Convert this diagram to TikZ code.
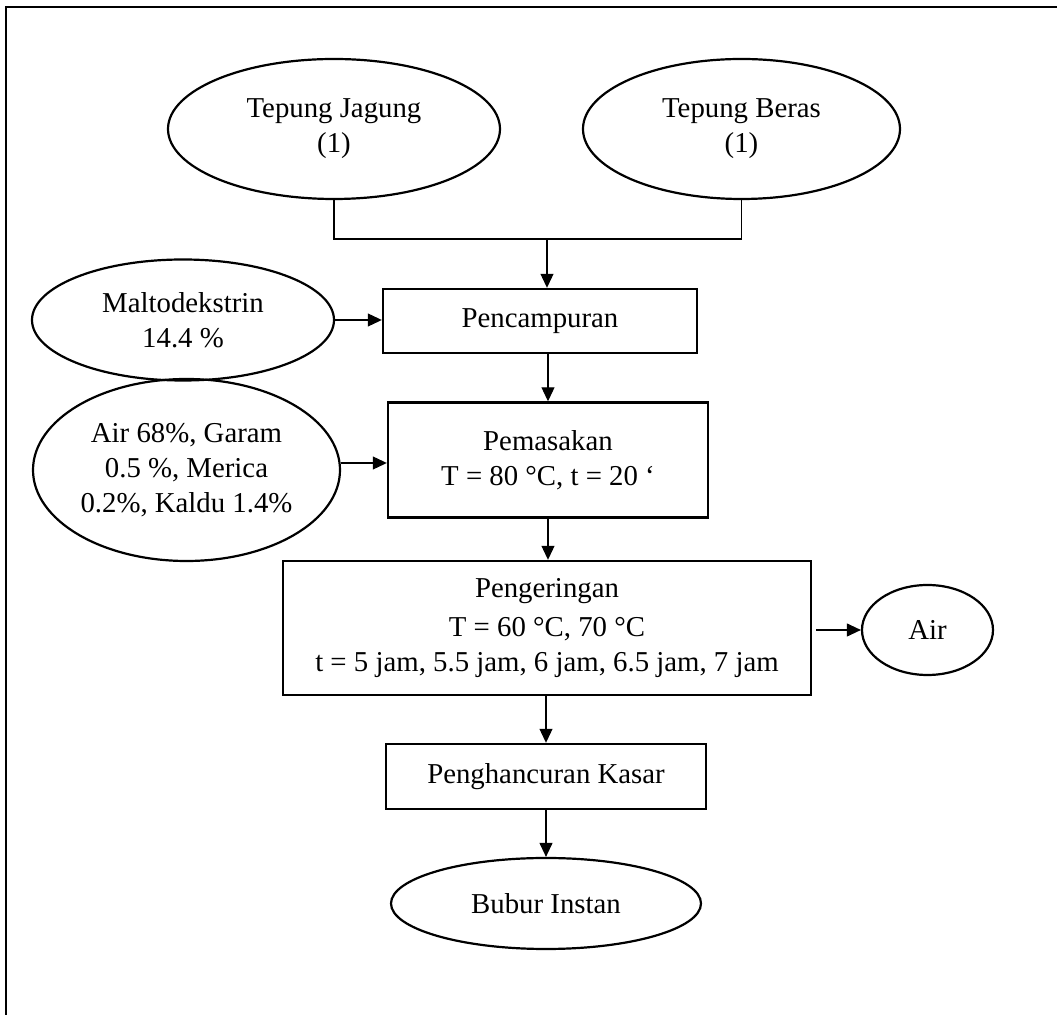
\documentclass[tikz,border=0pt]{standalone}
\usepackage{fontspec}
\setmainfont{Liberation Serif}
\usetikzlibrary{shapes.geometric,arrows.meta}
\begin{document}
\begin{tikzpicture}[x=0.5pt,y=-0.5pt,
  txt/.style={font=\fontsize{14.4}{17.5}\selectfont,align=center,inner sep=0pt},
  oval/.style={txt,ellipse,draw,line width=1.1pt},
  procbox/.style={txt,rectangle,draw,line width=1.2pt},
  link/.style={line width=0.55pt},
  flow/.style={link,-{Triangle[length=7pt,width=6.5pt]}}]
\useasboundingbox (0,0) rectangle (1057,1015);
\draw[line width=1.4pt] (6,1015) -- (6,7) -- (1057,7);

\node[oval,minimum width=166pt,minimum height=70pt] (jagung) at (334,129) {Tepung Jagung\\(1)};
\node[oval,minimum width=158.5pt,minimum height=70pt] (beras) at (741.5,129) {Tepung Beras\\(1)};
\node[procbox,minimum width=157pt,minimum height=32pt] (campur) at (540,321) {Pencampuran};
\node[oval,minimum width=151pt,minimum height=60.5pt] (malto) at (183,320) {Maltodekstrin\\14.4 \%};
\node[procbox,minimum width=160pt,minimum height=57.5pt] (masak) at (548,460) {Pemasakan\\T = 80 °C, t = 20 ‘};
\node[oval,minimum width=153.5pt,minimum height=91pt] (bahan) at (186.5,470) {Air 68\%, Garam\\0.5 \%, Merica\\0.2\%, Kaldu 1.4\%};
\node[procbox,minimum width=264pt,minimum height=67pt] (kering) at (547,628) {Pengeringan\\[2pt]T = 60 °C, 70 °C\\t = 5 jam, 5.5 jam, 6 jam, 6.5 jam, 7 jam};
\node[oval,minimum width=65.5pt,minimum height=45pt] (air) at (927.5,630) {Air};
\node[procbox,minimum width=160pt,minimum height=32.5pt] (hancur) at (546,776.5) {Penghancuran Kasar};
\node[oval,minimum width=155pt,minimum height=45.5pt] (bubur) at (546,903.5) {Bubur Instan};

\coordinate (jl) at (334,239);
\coordinate (jr) at (741.5,239);
\coordinate (jm) at (547,239);
\draw[link] (jagung.south) -- (jl) -- (jr) -- (beras.south);
\draw[flow] (jm) -- (jm |- campur.north);
\draw[flow] (malto.east) -- (malto.east -| campur.west);
\draw[flow] (masak.north |- campur.south) -- (masak.north);
\draw[flow] ([yshift=3.5pt]bahan.east) -- ([yshift=3.5pt]bahan.east -| masak.west);
\draw[flow] (masak.south) -- (masak.south |- kering.north);
\draw[flow,shorten <=2pt] (air.west -| kering.east) -- (air.west);
\draw[flow] (hancur.north |- kering.south) -- (hancur.north);
\draw[flow] (hancur.south) -- (bubur.north);
\end{tikzpicture}
\end{document}
